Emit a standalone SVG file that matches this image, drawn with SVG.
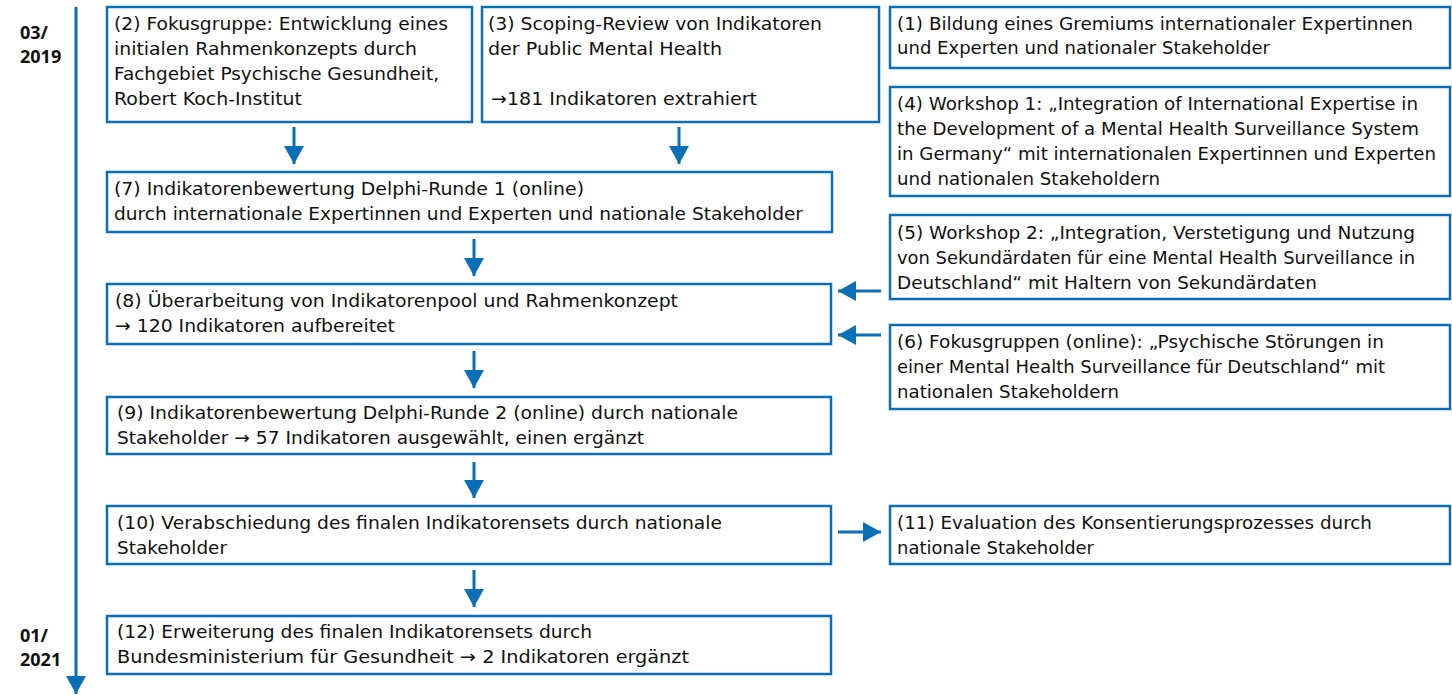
<svg xmlns="http://www.w3.org/2000/svg" width="1452" height="695" viewBox="0 0 1452 695">
<style>
  .box { fill: #ffffff; stroke: #0b6fb8; stroke-width: 2.5; }
  .t { font-family: "DejaVu Sans", "Liberation Sans", sans-serif; font-size: 18px; fill: #111111; }
  .d { font-family: "Open Sans", "Liberation Sans", sans-serif; font-size: 18px; font-weight: bold; fill: #111111; }
  .c { stroke: #0b6fb8; stroke-width: 3; fill: none; }
</style>
<defs>
  <marker id="ah" markerUnits="userSpaceOnUse" markerWidth="20" markerHeight="20" refX="18" refY="10" orient="auto">
    <path d="M0,0 L18,10 L0,20 z" fill="#0b6fb8"/>
  </marker>
</defs>
<rect width="1452" height="695" fill="#ffffff"/>

<g id="timeline">
  <line class="c" x1="76" y1="7" x2="76" y2="694" marker-end="url(#ah)"/>
  <text class="d" x="20" y="39">03/</text>
  <text class="d" x="20" y="63">2019</text>
  <text class="d" x="20" y="642">01/</text>
  <text class="d" x="20" y="666">2021</text>
</g>

<g id="connectors">
  <line class="c" x1="294" y1="127" x2="294" y2="164" marker-end="url(#ah)"/>
  <line class="c" x1="679" y1="127" x2="679" y2="164" marker-end="url(#ah)"/>
  <line class="c" x1="474" y1="239" x2="474" y2="276" marker-end="url(#ah)"/>
  <line class="c" x1="474" y1="351" x2="474" y2="388" marker-end="url(#ah)"/>
  <line class="c" x1="474" y1="462" x2="474" y2="498" marker-end="url(#ah)"/>
  <line class="c" x1="474" y1="570" x2="474" y2="607" marker-end="url(#ah)"/>
  <line class="c" x1="881" y1="291" x2="838" y2="291" marker-end="url(#ah)"/>
  <line class="c" x1="881" y1="335" x2="838" y2="335" marker-end="url(#ah)"/>
  <line class="c" x1="838" y1="532" x2="881" y2="532" marker-end="url(#ah)"/>
</g>

<g id="n2">
  <rect class="box" x="107" y="7" width="365" height="115"/>
  <text class="t" x="114" y="30" textLength="334" lengthAdjust="spacingAndGlyphs">(2) Fokusgruppe: Entwicklung eines</text>
  <text class="t" x="114" y="55" textLength="303" lengthAdjust="spacingAndGlyphs">initialen Rahmenkonzepts durch</text>
  <text class="t" x="114" y="80" textLength="325" lengthAdjust="spacingAndGlyphs">Fachgebiet Psychische Gesundheit,</text>
  <text class="t" x="114" y="105" textLength="188" lengthAdjust="spacingAndGlyphs">Robert Koch-Institut</text>
</g>

<g id="n3">
  <rect class="box" x="482" y="7" width="397" height="115"/>
  <text class="t" x="488" y="30" textLength="334" lengthAdjust="spacingAndGlyphs">(3) Scoping-Review von Indikatoren</text>
  <text class="t" x="488" y="55" textLength="234" lengthAdjust="spacingAndGlyphs">der Public Mental Health</text>
  <text class="t" x="491" y="105" textLength="266" lengthAdjust="spacingAndGlyphs">→181 Indikatoren extrahiert</text>
</g>

<g id="n1">
  <rect class="box" x="890" y="7" width="560" height="61"/>
  <text class="t" x="897" y="30" textLength="516" lengthAdjust="spacingAndGlyphs">(1) Bildung eines Gremiums internationaler Expertinnen</text>
  <text class="t" x="897" y="54" textLength="373" lengthAdjust="spacingAndGlyphs">und Experten und nationaler Stakeholder</text>
</g>

<g id="n4">
  <rect class="box" x="890" y="87" width="560" height="109"/>
  <text class="t" x="897" y="110" textLength="521" lengthAdjust="spacingAndGlyphs">(4) Workshop 1: „Integration of International Expertise in</text>
  <text class="t" x="897" y="135" textLength="522" lengthAdjust="spacingAndGlyphs">the Development of a Mental Health Surveillance System</text>
  <text class="t" x="897" y="160" textLength="539" lengthAdjust="spacingAndGlyphs">in Germany“ mit internationalen Expertinnen und Experten</text>
  <text class="t" x="897" y="185" textLength="263" lengthAdjust="spacingAndGlyphs">und nationalen Stakeholdern</text>
</g>

<g id="n5">
  <rect class="box" x="890" y="215" width="560" height="84"/>
  <text class="t" x="897" y="239" textLength="518" lengthAdjust="spacingAndGlyphs">(5) Workshop 2: „Integration, Verstetigung und Nutzung</text>
  <text class="t" x="897" y="264" textLength="518" lengthAdjust="spacingAndGlyphs">von Sekundärdaten für eine Mental Health Surveillance in</text>
  <text class="t" x="897" y="289" textLength="420" lengthAdjust="spacingAndGlyphs">Deutschland“ mit Haltern von Sekundärdaten</text>
</g>

<g id="n6">
  <rect class="box" x="890" y="325" width="560" height="84"/>
  <text class="t" x="897" y="348" textLength="487" lengthAdjust="spacingAndGlyphs">(6) Fokusgruppen (online): „Psychische Störungen in</text>
  <text class="t" x="897" y="373" textLength="488" lengthAdjust="spacingAndGlyphs">einer Mental Health Surveillance für Deutschland“ mit</text>
  <text class="t" x="897" y="398" textLength="222" lengthAdjust="spacingAndGlyphs">nationalen Stakeholdern</text>
</g>

<g id="n7">
  <rect class="box" x="107" y="172" width="725" height="60"/>
  <text class="t" x="114" y="195" textLength="470" lengthAdjust="spacingAndGlyphs">(7) Indikatorenbewertung Delphi-Runde 1 (online)</text>
  <text class="t" x="114" y="220" textLength="689" lengthAdjust="spacingAndGlyphs">durch internationale Expertinnen und Experten und nationale Stakeholder</text>
</g>

<g id="n8">
  <rect class="box" x="107" y="284" width="724" height="60"/>
  <text class="t" x="115" y="307" textLength="563" lengthAdjust="spacingAndGlyphs">(8) Überarbeitung von Indikatorenpool und Rahmenkonzept</text>
  <text class="t" x="115" y="332" textLength="280" lengthAdjust="spacingAndGlyphs">→ 120 Indikatoren aufbereitet</text>
</g>

<g id="n9">
  <rect class="box" x="107" y="397" width="724" height="57"/>
  <text class="t" x="117" y="419" textLength="621" lengthAdjust="spacingAndGlyphs">(9) Indikatorenbewertung Delphi-Runde 2 (online) durch nationale</text>
  <text class="t" x="117" y="444" textLength="527" lengthAdjust="spacingAndGlyphs">Stakeholder → 57 Indikatoren ausgewählt, einen ergänzt</text>
</g>

<g id="n10">
  <rect class="box" x="107" y="506" width="724" height="58"/>
  <text class="t" x="117" y="529" textLength="605" lengthAdjust="spacingAndGlyphs">(10) Verabschiedung des finalen Indikatorensets durch nationale</text>
  <text class="t" x="117" y="554" textLength="110" lengthAdjust="spacingAndGlyphs">Stakeholder</text>
</g>

<g id="n11">
  <rect class="box" x="890" y="506" width="560" height="58"/>
  <text class="t" x="897" y="529" textLength="475" lengthAdjust="spacingAndGlyphs">(11) Evaluation des Konsentierungsprozesses durch</text>
  <text class="t" x="897" y="554" textLength="197" lengthAdjust="spacingAndGlyphs">nationale Stakeholder</text>
</g>

<g id="n12">
  <rect class="box" x="107" y="616" width="724" height="58"/>
  <text class="t" x="117" y="638" textLength="475" lengthAdjust="spacingAndGlyphs">(12) Erweiterung des finalen Indikatorensets durch</text>
  <text class="t" x="117" y="663" textLength="572" lengthAdjust="spacingAndGlyphs">Bundesministerium für Gesundheit → 2 Indikatoren ergänzt</text>
</g>
</svg>
